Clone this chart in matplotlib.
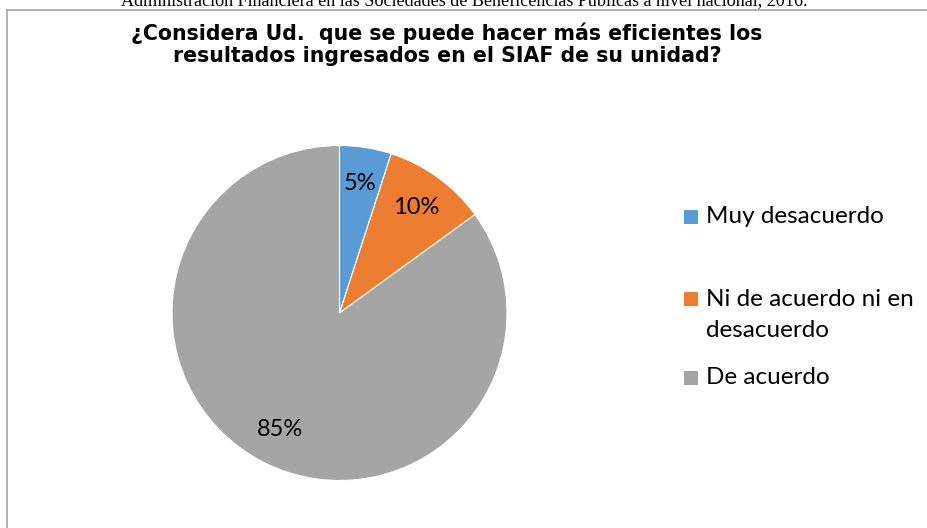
import matplotlib
matplotlib.use("Agg")
import matplotlib.pyplot as plt
from matplotlib.lines import Line2D
from matplotlib.patches import Rectangle

W, H = 928, 528

categorias = ["Muy desacuerdo", "Ni de acuerdo ni en\ndesacuerdo", "De acuerdo"]
porcentajes = [5, 10, 85]
colores = ["#5B9BD5", "#ED7D31", "#A5A5A5"]

titulo = "¿Considera Ud.  que se puede hacer más eficientes los\nresultados ingresados en el SIAF de su unidad?"
texto_superior = "Administración Financiera en las Sociedades de Beneficencias Públicas a nivel nacional, 2016."

fig = plt.figure(figsize=(W / 100, H / 100), dpi=100)

# line of the document text above the chart, cut off at the top
fig.text(464 / W, 1 - 6.5 / H, texto_superior, ha="center", va="baseline",
         family="Liberation Serif", fontsize=13.1)

# chart frame (right and bottom sides fall outside the picture)
fig.add_artist(Line2D([7 / W, 1.0], [1 - 9.5 / H, 1 - 9.5 / H], color="#A6A6A6", lw=1.2))
fig.add_artist(Line2D([7 / W, 7 / W], [1 - 9.5 / H, 0.0], color="#A6A6A6", lw=1.2))

# va="baseline" on multi-line text aligns the last line
fig.text(447 / W, 1 - 62 / H, titulo, ha="center", va="baseline", family="DejaVu Sans",
         fontweight="bold", fontsize=14.8, linespacing=1.12)

# pie: centre (339.5, 313), radius 167.5 px
cx, cy, r = 339.5, 313, 167.5
ax = fig.add_axes([(cx - r) / W, 1 - (cy + r) / H, 2 * r / W, 2 * r / H])
wedges, textos, pct = ax.pie(porcentajes, colors=colores, startangle=90, counterclock=False,
                             autopct=lambda p: f"{p:.0f}%", pctdistance=0.78,
                             wedgeprops=dict(edgecolor="white", linewidth=0.8),
                             textprops=dict(family="Lato", fontsize=17, color="black"))
ax.set_xlim(-1, 1)
ax.set_ylim(-1, 1)

# legend on the right
marcador_base = [223, 305, 384]
salto = 31.7
for nombre, color, yb in zip(categorias, colores, marcador_base):
    fig.add_artist(Rectangle((684 / W, 1 - (yb + 0.5) / H), 14 / W, 14 / H,
                             facecolor=color, edgecolor="none"))
    yt = yb + salto * nombre.count("\n")
    fig.text(706 / W, 1 - yt / H, nombre, ha="left", va="baseline", family="Lato",
             fontsize=17.5, linespacing=1.55)

fig.savefig("out.png", dpi=100)
